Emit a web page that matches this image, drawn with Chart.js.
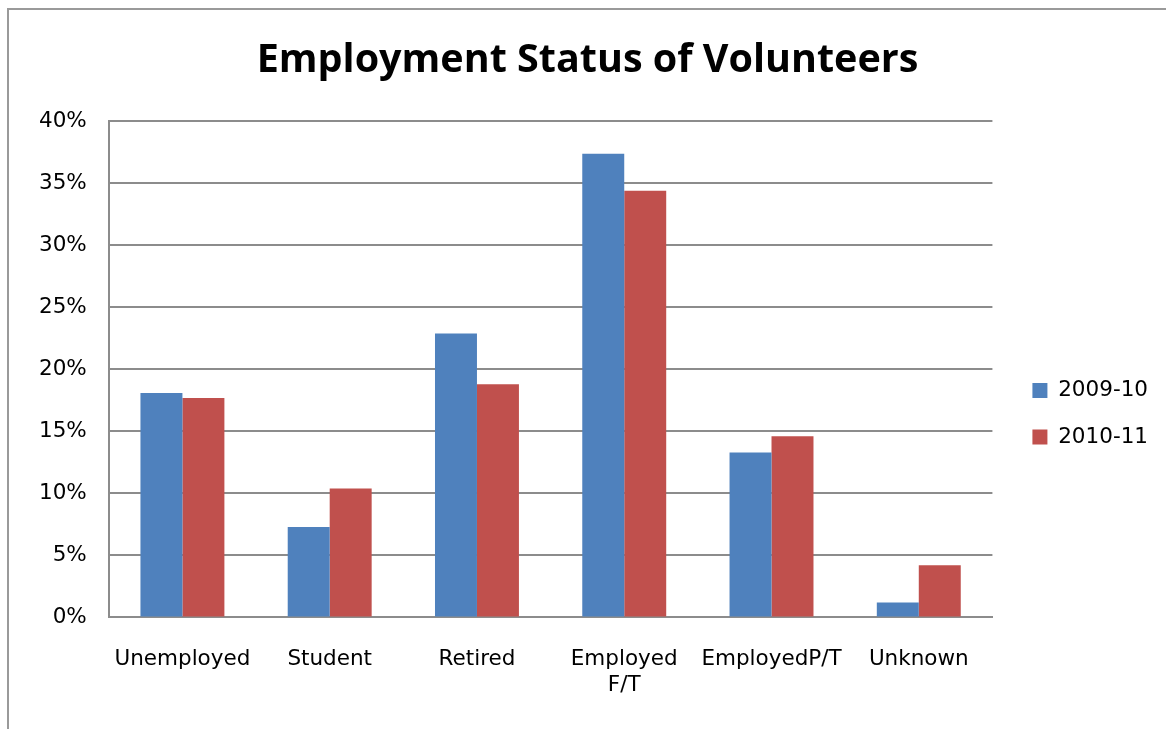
<!DOCTYPE html>
<html>
<head>
<meta charset="utf-8">
<script src="https://cdn.jsdelivr.net/npm/chart.js@4/dist/chart.umd.min.js"></script>
<style>
  html, body { margin: 0; padding: 0; background: #fff; overflow: hidden; }
  #frame {
    position: absolute; left: 7px; top: 8px;
    width: 1170px; height: 730px;
    border-left: 2px solid #9a9a9a; border-top: 2px solid #9a9a9a;
    box-sizing: border-box;
  }
  #wrap { position: absolute; left: 0; top: 0; width: 1157px; height: 719px; }
</style>
</head>
<body>
<div id="frame"><div id="wrap"><canvas id="chart"></canvas></div></div>
<script>
// Valores (fração de voluntários)
const categories = ['Unemployed', 'Student', 'Retired', ['Employed', 'F/T'], 'EmployedP/T', 'Unknown'];
const series2009 = [0.181, 0.073, 0.229, 0.374, 0.133, 0.012];
const series2010 = [0.177, 0.104, 0.188, 0.344, 0.146, 0.042];
const seriesNames = ['2009-10', '2010-11'];
const yTicks = [0, 0.05, 0.10, 0.15, 0.20, 0.25, 0.30, 0.35, 0.40];

const FONT = 'DejaVu Sans';

new Chart(document.getElementById('chart'), {
  type: 'bar',
  data: {
    labels: categories,
    datasets: [
      { label: seriesNames[0], data: series2009, backgroundColor: '#4F81BD' },
      { label: seriesNames[1], data: series2010, backgroundColor: '#C0504D' }
    ]
  },
  options: {
    responsive: true,
    maintainAspectRatio: false,
    animation: false,
    layout: { padding: { left: 8, right: 8, top: 0, bottom: 2 } },
    datasets: { bar: { categoryPercentage: 0.57, barPercentage: 1.0 } },
    plugins: {
      title: {
        display: true,
        text: 'Employment Status of Volunteers',
        color: '#000',
        font: { family: 'Open Sans', size: 39.5, weight: 'bold' },
        padding: { top: 27, bottom: 37 }
      },
      legend: {
        position: 'right',
        title: { display: true, text: ' ', font: { size: 2 }, padding: { top: 0, bottom: 88 } },
        labels: {
          color: '#000',
          font: { family: FONT, size: 21.5 },
          boxWidth: 15,
          boxHeight: 15,
          padding: 25
        }
      },
      tooltip: { enabled: false }
    },
    scales: {
      x: {
        grid: { display: false, drawTicks: false },
        border: { color: '#8c8c8c', width: 2 },
        ticks: { color: '#000', font: { family: FONT, size: 21.5 }, padding: 29, maxRotation: 0, autoSkip: false }
      },
      y: {
        min: 0,
        max: 0.40,
        afterBuildTicks: (axis) => { axis.ticks = yTicks.map(v => ({ value: v })); },
        grid: { color: '#8c8c8c', lineWidth: 2, drawTicks: false },
        border: { color: '#8c8c8c', width: 2 },
        ticks: {
          color: '#000',
          font: { family: FONT, size: 21.5 },
          padding: 22,
          callback: (v) => Math.round(v * 100) + '%'
        }
      },
      // eixo vazio só para afastar a legenda da área do gráfico
      gap: {
        position: 'right',
        display: true,
        grid: { display: false, drawTicks: false },
        border: { display: false },
        ticks: { display: false },
        afterFit: (s) => { s.width = 15; }
      }
    }
  }
});
</script>
</body>
</html>
